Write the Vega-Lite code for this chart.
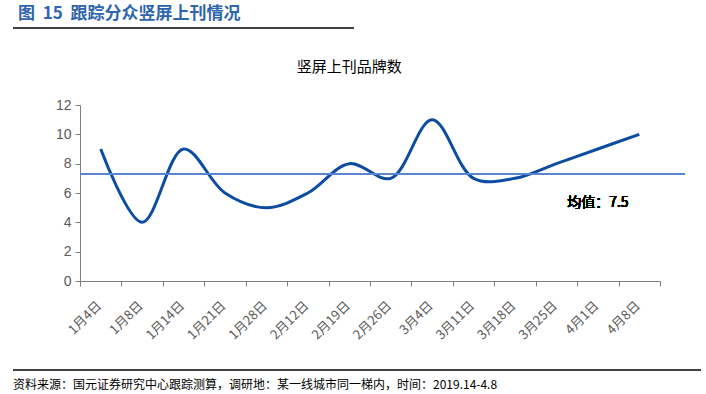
{
  "$schema": "https://vega.github.io/schema/vega-lite/v6.json",
  "padding": {"left": 12, "top": 5, "right": 6, "bottom": 0},
  "spacing": 23,
  "background": "#ffffff",
  "config": {
    "view": {"stroke": null},
    "font": "Noto Sans CJK SC"
  },
  "vconcat": [
    {
      "width": 341,
      "height": 9,
      "title": {
        "text": "图\u00a0\u00a015\u00a0\u00a0跟踪分众竖屏上刊情况",
        "anchor": "start",
        "frame": "group",
        "fontSize": 17,
        "font": "Noto Sans CJK SC",
        "fontWeight": "bold",
        "color": "#2F64AE",
        "offset": 4,
        "dx": 5
      },
      "data": {"values": [{"v": 1}]},
      "mark": {"type": "rule", "color": "#000000", "strokeWidth": 1.5},
      "encoding": {
        "y": {"field": "v", "type": "quantitative", "axis": null, "scale": {"domain": [0, 1]}}
      }
    },
    {
      "width": 672,
      "height": 176,
      "title": {
        "text": "竖屏上刊品牌数",
        "anchor": "middle",
        "frame": "bounds",
        "fontSize": 15,
        "font": "Noto Sans CJK SC",
        "fontWeight": "normal",
        "color": "#000000",
        "offset": 23
      },
      "data": {
        "values": [
          {"date": "1月4日", "count": 9},
          {"date": "1月8日", "count": 4},
          {"date": "1月14日", "count": 9},
          {"date": "1月21日", "count": 6},
          {"date": "1月28日", "count": 5},
          {"date": "2月12日", "count": 6},
          {"date": "2月19日", "count": 8},
          {"date": "2月26日", "count": 7},
          {"date": "3月4日", "count": 11},
          {"date": "3月11日", "count": 7},
          {"date": "3月18日", "count": 7},
          {"date": "3月25日", "count": 8},
          {"date": "4月1日", "count": 9},
          {"date": "4月8日", "count": 10}
        ]
      },
      "layer": [
        {
          "mark": {"type": "line", "color": "#0C4DA2", "strokeWidth": 3, "interpolate": "catmull-rom"},
          "encoding": {
            "x": {
              "field": "date",
              "type": "ordinal",
              "sort": null,
              "bandPosition": 0.5,
              "scale": {"type": "band", "paddingInner": 0, "paddingOuter": 0, "range": [67, 647]},
              "axis": {
                "title": null,
                "labelAngle": -45,
                "labelFontSize": 13,
                "labelFont": "Noto Sans CJK SC",
                "labelColor": "#595959",
                "labelPadding": 13,
                "labelOffset": -6,
                "labelOverlap": false,
                "tickBand": "extent",
                "tickSize": 5,
                "tickColor": "#7f7f7f",
                "domainColor": "#7f7f7f",
                "grid": false
              }
            },
            "y": {
              "field": "count",
              "type": "quantitative",
              "scale": {"domain": [0, 12]},
              "axis": {
                "title": null,
                "values": [0, 2, 4, 6, 8, 10, 12],
                "tickCount": 7,
                "labelOverlap": false,
                "labelFontSize": 14,
                "labelFont": "Liberation Sans",
                "labelColor": "#595959",
                "labelPadding": 4,
                "tickSize": 5,
                "tickColor": "#7f7f7f",
                "domainColor": "#7f7f7f",
                "grid": false,
                "offset": -67,
                "minExtent": 0
              }
            }
          }
        },
        {
          "mark": {"type": "rule", "color": "#5A86CF", "strokeWidth": 1.2},
          "encoding": {
            "x": {"datum": "1月4日", "type": "ordinal", "bandPosition": 0},
            "x2": {"datum": "4月8日", "bandPosition": 1.6},
            "y": {"datum": 7.3, "type": "quantitative"}
          }
        },
        {
          "mark": {"type": "text", "fontSize": 14, "font": "Noto Sans CJK SC", "fontWeight": "normal", "fill": "#000000", "stroke": null},
          "encoding": {
            "x": {"datum": "4月1日", "type": "ordinal", "bandPosition": 0.5},
            "y": {"datum": 5.3, "type": "quantitative"},
            "text": {"value": "均值：7.5"}
          }
        }
      ]
    },
    {
      "width": 688,
      "height": 5,
      "title": {
        "text": "资料来源：国元证券研究中心跟踪测算，调研地：某一线城市同一梯内，时间：2019.14-4.8",
        "orient": "bottom",
        "anchor": "start",
        "frame": "group",
        "fontSize": 12,
        "font": "Noto Sans CJK SC",
        "fontWeight": "normal",
        "color": "#000000",
        "offset": 9
      },
      "data": {"values": [{"v": 0}]},
      "mark": {"type": "rule", "color": "#000000", "strokeWidth": 1.5},
      "encoding": {
        "y": {"field": "v", "type": "quantitative", "axis": null, "scale": {"domain": [0, 1]}}
      }
    }
  ]
}
